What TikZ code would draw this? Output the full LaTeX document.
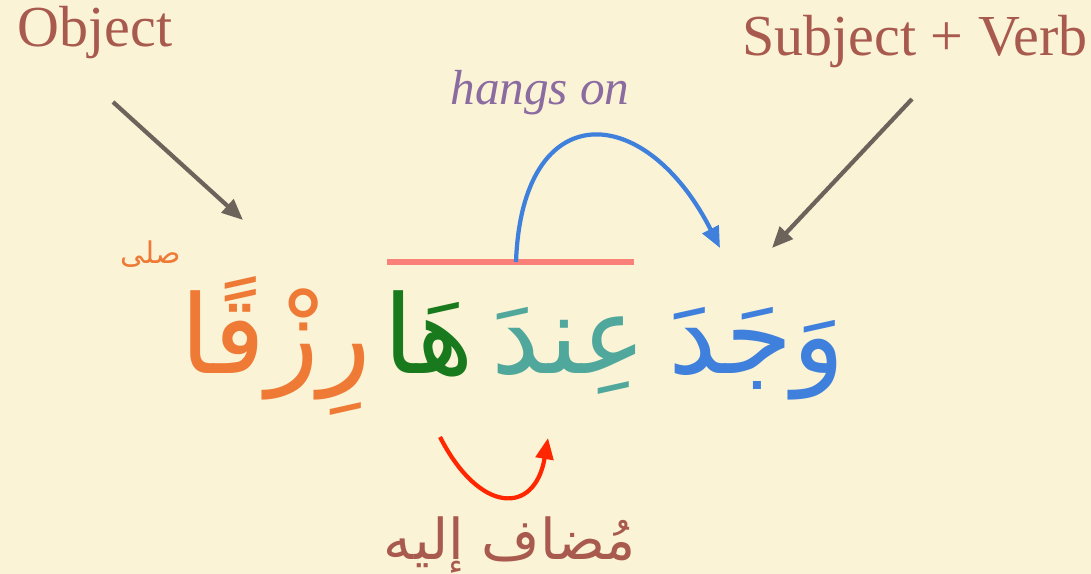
\documentclass[tikz,border=0pt]{standalone}
\usepackage{fontspec}
\setmainfont{Liberation Serif}
\newfontfamily\arabicfont[Script=Arabic]{DejaVu Sans}
\TeXXeTstate=1
\usetikzlibrary{arrows.meta, positioning}
\definecolor{paper}{RGB}{251,243,214}
\definecolor{labelbrown}{RGB}{168,90,78}
\definecolor{hangpurple}{RGB}{138,108,160}
\definecolor{pointergray}{RGB}{108,100,90}
\definecolor{verbblue}{RGB}{62,128,220}
\definecolor{indateal}{RGB}{80,168,156}
\definecolor{hagreen}{RGB}{24,122,28}
\definecolor{rizqorange}{RGB}{238,122,53}
\definecolor{barpink}{RGB}{250,128,122}
\definecolor{idafared}{RGB}{255,38,0}

\begin{document}
\begin{tikzpicture}[x=0.01cm, y=-0.01cm,
    tag/.style={text=labelbrown, font=\fontsize{16.5}{20}\selectfont, inner sep=0pt},
    arword/.style={font=\arabicfont\fontsize{31}{38}\selectfont, inner sep=0pt, anchor=base},
    pointer/.style={draw=pointergray, line width=1.2pt, -{Triangle[length=6pt,width=5pt]}}]
  \fill[paper] (0,0) rectangle (1091,574);

  % labels
  \node[tag] (object) at (95,33) {Object};
  \node[tag] (subjverb) at (915,42) {Subject + Verb};
  \node[text=hangpurple, font=\itshape\fontsize{14}{17}\selectfont, inner sep=0pt] (hangs) at (540,93) {hangs on};

  % the words
  \node[arword, text=verbblue] (wajada) at (757,374) {\beginR وَجَدَ\endR};
  \node[arword, text=indateal] (inda) at (569,374) {\beginR عِندَ\endR};
  \node[arword, text=hagreen] (ha) at (429,374) {\beginR هَا\endR};
  \node[arword, text=rizqorange] (rizq) at (276,374) {\beginR رِزْقًا\endR};
  \node[font=\arabicfont\fontsize{8.5}{11}\selectfont, text=rizqorange, inner sep=0pt] (waqf) at (151,254) {\beginR صلى\endR};
  \node[font=\arabicfont\fontsize{16}{20}\selectfont, text=labelbrown, inner sep=0pt] (mudaf) at (510,545) {\beginR مُضاف إليه\endR};

  \coordinate (objtip) at (243,220);
  \coordinate (verbtip) at (772,248);
  \coordinate (barleft) at (387,262);
  \coordinate (barright) at (634,262);
  \coordinate (barmid) at (516,262);
  \coordinate (hangtip) at (720,248);
  \coordinate (hafoot) at (440,437);
  \coordinate (indafoot) at (548,438);

  \draw[pointer] ([shift={(18,42)}]object.south) -- (objtip);
  \draw[pointer] ([shift={(-3,30)}]subjverb.south) -- (verbtip);

  \draw[barpink, line width=1.5pt] (barleft) -- (barright);
  \draw[verbblue, line width=1.2pt, -{Triangle[length=6pt,width=5pt]}]
    (barmid) .. controls (522,95) and (645,100) .. (hangtip);
  \draw[idafared, line width=1.2pt, -{Triangle[length=6pt,width=5pt]}]
    (hafoot) .. controls (480,515) and (535,515) .. (indafoot);
\end{tikzpicture}
\end{document}
